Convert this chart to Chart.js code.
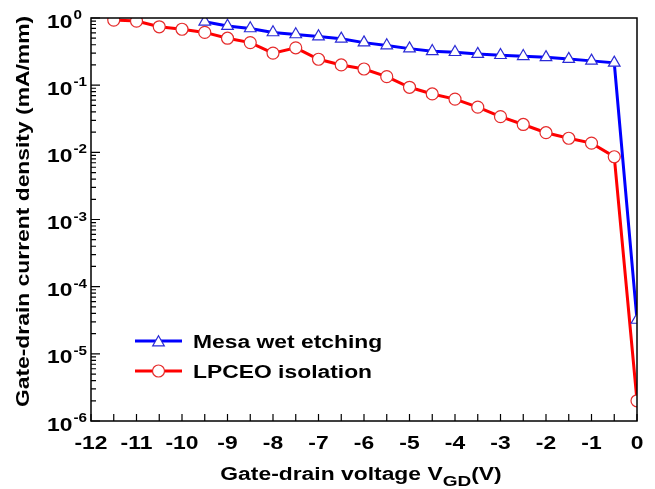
<!DOCTYPE html>
<html>
<head>
<meta charset="utf-8">
<script src="https://cdn.jsdelivr.net/npm/chart.js@4/dist/chart.umd.min.js"></script>
<style>
  html, body { margin: 0; padding: 0; background: #ffffff; }
  canvas { display: block; }
</style>
</head>
<body>
<canvas id="chart" width="655" height="489"></canvas>
<script>
// Gate-drain leakage current vs. gate-drain voltage for two isolation processes
const mesaVoltage = [-9.5, -9, -8.5, -8, -7.5, -7, -6.5, -6, -5.5, -5, -4.5, -4, -3.5, -3, -2.5, -2, -1.5, -1, -0.5, 0];
const mesaCurrent = [0.88, 0.76, 0.70, 0.61, 0.57, 0.53, 0.49, 0.43, 0.39, 0.35, 0.32, 0.31, 0.29, 0.28, 0.27, 0.26, 0.245, 0.23, 0.215, 3.2e-5];

const lpceoVoltage = [-11.5, -11, -10.5, -10, -9.5, -9, -8.5, -8, -7.5, -7, -6.5, -6, -5.5, -5, -4.5, -4, -3.5, -3, -2.5, -2, -1.5, -1, -0.5, 0];
const lpceoCurrent = [0.93, 0.90, 0.74, 0.68, 0.61, 0.50, 0.43, 0.30, 0.36, 0.243, 0.20, 0.174, 0.134, 0.093, 0.074, 0.062, 0.047, 0.034, 0.026, 0.0196, 0.0162, 0.0137, 0.0086, 2e-6];

const seriesNames = ['Mesa wet etching', 'LPCEO isolation'];
const xTickValues = [-12, -11, -10, -9, -8, -7, -6, -5, -4, -3, -2, -1, 0];
const yDecadeExponents = [0, -1, -2, -3, -4, -5, -6];
const xTitleMain = 'Gate-drain voltage V';
const xTitleSub = 'GD';
const xTitleEnd = '(V)';
const yTitle = 'Gate-drain current density (mA/mm)';

const FONT = '"Liberation Sans", Arial, Helvetica, sans-serif';
const STRETCH = 1.27;   // wide bold lettering

function toPoints(xs, ys) {
  return xs.map((x, i) => ({ x: x, y: ys[i] }));
}

// Text drawn with horizontal stretch in its own frame
function wideText(ctx, text, x, y, size, align, baseline, angle) {
  ctx.save();
  ctx.translate(x, y);
  if (angle) ctx.rotate(angle);
  ctx.scale(STRETCH, 1);
  ctx.font = 'bold ' + size + 'px ' + FONT;
  ctx.textAlign = align || 'left';
  ctx.textBaseline = baseline || 'alphabetic';
  ctx.fillStyle = '#000';
  ctx.fillText(text, 0, 0);
  ctx.restore();
}
function wideWidth(ctx, text, size) {
  ctx.save();
  ctx.font = 'bold ' + size + 'px ' + FONT;
  const w = ctx.measureText(text).width * STRETCH;
  ctx.restore();
  return w;
}

function drawTriangle(ctx, x, y, r, stroke) {
  ctx.beginPath();
  for (let k = 0; k < 3; k++) {
    const a = k * 2 * Math.PI / 3;
    const px = x + Math.sin(a) * r, py = y - Math.cos(a) * r;
    if (k === 0) ctx.moveTo(px, py); else ctx.lineTo(px, py);
  }
  ctx.closePath();
  ctx.fillStyle = '#fff';
  ctx.fill();
  ctx.strokeStyle = stroke;
  ctx.lineWidth = 1.2;
  ctx.stroke();
}
function drawCircle(ctx, x, y, r, stroke) {
  ctx.beginPath();
  ctx.arc(x, y, r, 0, 2 * Math.PI);
  ctx.fillStyle = '#fff';
  ctx.fill();
  ctx.strokeStyle = stroke;
  ctx.lineWidth = 1.2;
  ctx.stroke();
}

const axesPlugin = {
  id: 'axesPlugin',
  afterDraw(chart) {
    const ctx = chart.ctx;
    const a = chart.chartArea;
    const xs = chart.scales.x;
    const ys = chart.scales.y;
    ctx.save();

    // frame
    ctx.strokeStyle = '#000';
    ctx.lineWidth = 1.5;
    ctx.strokeRect(a.left, a.top, a.right - a.left, a.bottom - a.top);

    // x ticks (inward), whole and half volts
    ctx.lineWidth = 1.2;
    ctx.beginPath();
    xTickValues.forEach((v, i) => {
      const px = xs.getPixelForValue(v);
      ctx.moveTo(px, a.bottom); ctx.lineTo(px, a.bottom - 7);
      if (i < xTickValues.length - 1) {
        const mid = xs.getPixelForValue((v + xTickValues[i + 1]) / 2);
        ctx.moveTo(mid, a.bottom); ctx.lineTo(mid, a.bottom - 7);
      }
    });
    // y ticks (inward), decades and log minors
    yDecadeExponents.forEach(e => {
      const py = ys.getPixelForValue(Math.pow(10, e));
      ctx.moveTo(a.left, py); ctx.lineTo(a.left + 9, py);
      if (e > yDecadeExponents[yDecadeExponents.length - 1]) {
        for (let m = 2; m <= 9; m++) {
          const pm = ys.getPixelForValue(m * Math.pow(10, e - 1));
          ctx.moveTo(a.left, pm); ctx.lineTo(a.left + 5, pm);
        }
      }
    });
    ctx.stroke();

    // x tick labels
    xTickValues.forEach(v => {
      const px = xs.getPixelForValue(v);
      wideText(ctx, String(v), px, a.bottom + 28, 18, 'center');
    });

    // y tick labels 10^n
    yDecadeExponents.forEach(e => {
      const py = ys.getPixelForValue(Math.pow(10, e));
      const x0 = 47;
      wideText(ctx, '10', x0, py + 9.5, 18, 'left');
      const w = wideWidth(ctx, '10', 18);
      wideText(ctx, String(e), x0 + w + 1, py + 1, 12, 'left');
    });

    // x axis title with subscript
    const w1 = wideWidth(ctx, xTitleMain, 18);
    const w2 = wideWidth(ctx, xTitleSub, 15);
    const w3 = wideWidth(ctx, xTitleEnd, 18);
    const cx = (a.left + a.right) / 2 - 3;
    let tx = cx - (w1 + w2 + w3) / 2;
    const by = a.bottom + 59;
    wideText(ctx, xTitleMain, tx, by, 18, 'left'); tx += w1;
    wideText(ctx, xTitleSub, tx, by + 6, 15, 'left'); tx += w2;
    wideText(ctx, xTitleEnd, tx, by, 18, 'left');

    // y axis title
    wideText(ctx, yTitle, 24, (a.top + a.bottom) / 2 - 8, 18, 'center', 'middle', -Math.PI / 2);

    // legend
    const lx0 = 135, lx1 = 182, lmid = 158.5;
    const rows = [
      { y: 341, color: '#0000ff', marker: 'tri', stroke: '#2b2bd6' },
      { y: 371, color: '#ff0000', marker: 'circ', stroke: '#e52b2b' }
    ];
    rows.forEach((r, i) => {
      ctx.beginPath();
      ctx.strokeStyle = r.color;
      ctx.lineWidth = 3;
      ctx.moveTo(lx0, r.y); ctx.lineTo(lx1, r.y);
      ctx.stroke();
      if (r.marker === 'tri') drawTriangle(ctx, lmid, r.y + 1.5, 6.7, r.stroke);
      else drawCircle(ctx, lmid, r.y, 6, r.stroke);
      wideText(ctx, seriesNames[i], 193, r.y + 7, 18, 'left');
    });

    ctx.restore();
  }
};

new Chart(document.getElementById('chart'), {
  type: 'line',
  data: {
    datasets: [
      {
        label: seriesNames[0],
        data: toPoints(mesaVoltage, mesaCurrent),
        borderColor: '#0000ff',
        borderWidth: 3,
        pointStyle: 'triangle',
        pointRadius: 6.7,
        pointBorderWidth: 1.2,
        pointBorderColor: '#2b2bd6',
        pointBackgroundColor: '#ffffff',
        tension: 0
      },
      {
        label: seriesNames[1],
        data: toPoints(lpceoVoltage, lpceoCurrent),
        borderColor: '#ff0000',
        borderWidth: 3,
        pointStyle: 'circle',
        pointRadius: 6,
        pointBorderWidth: 1.2,
        pointBorderColor: '#e52b2b',
        pointBackgroundColor: '#ffffff',
        tension: 0
      }
    ]
  },
  options: {
    responsive: false,
    animation: false,
    devicePixelRatio: 1,
    layout: { padding: { left: 91, right: 18, top: 18, bottom: 68 } },
    plugins: { legend: { display: false }, tooltip: { enabled: false } },
    scales: {
      x: { type: 'linear', min: -12, max: 0, display: false },
      y: { type: 'logarithmic', min: 1e-6, max: 1, display: false }
    }
  },
  plugins: [axesPlugin]
});
</script>
</body>
</html>
